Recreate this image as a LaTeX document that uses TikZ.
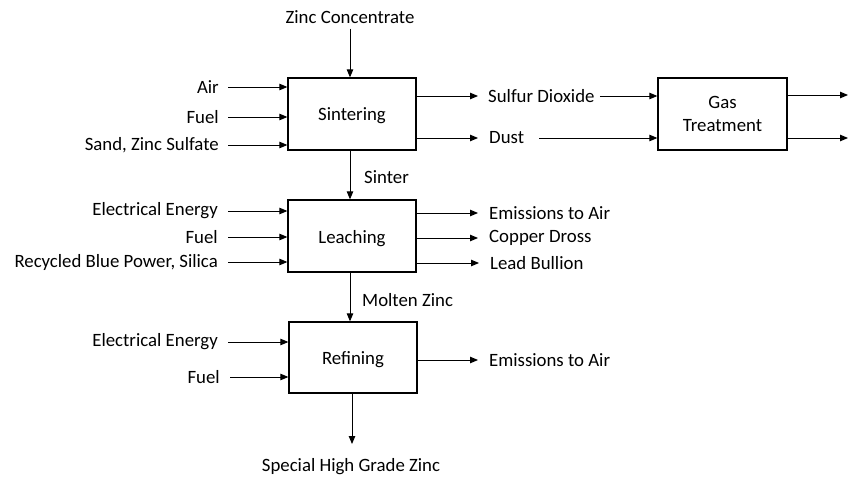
\documentclass[tikz,border=0pt]{standalone}
\usepackage{fontspec}
\setmainfont{Carlito}
\usetikzlibrary{arrows.meta}
\begin{document}
\begin{tikzpicture}[x=1pt,y=-1pt,
  every node/.style={font=\fontsize{18.8}{22}\selectfont, inner sep=0pt},
  proc/.style={draw, line width=1.3pt, minimum width=128pt, minimum height=72pt, align=center},
  low/.style={text height=14pt, text depth=0pt},
  flow/.style={line width=0.9pt, -{Triangle[length=8pt,width=6.5pt]}}]
\useasboundingbox (0,0) rectangle (850,478);
% boxes
\node[proc, low] (sint) at (352,114) {Sintering};
\node[proc, low] (leach) at (352,236) {Leaching};
\node[proc, low, minimum height=71pt] (ref) at (353,357.5) {Refining};
\node[proc, minimum width=129pt] (gas) at (722.5,114) {Gas\\[1pt]Treatment};
% top input
\node (zc) at (350,17) {Zinc Concentrate};
\draw[flow] ([yshift=-5pt]zc.south) -- (zc.south |- sint.north);
% sintering inputs
\node[anchor=east] (air) at (219,87) {Air};
\node[anchor=east] (fuel1) at (219,117) {Fuel};
\node[anchor=east] (sand) at (219,145) {Sand, Zinc Sulfate};
\foreach \n in {air,fuel1,sand}
  \draw[flow] ([xshift=9pt]\n.east) -- (\n -| sint.west);
% sintering outputs
\node[anchor=west] (so2) at (488,96) {Sulfur Dioxide};
\node[anchor=west] (dust) at (489,138) {Dust};
\draw[flow] (sint.east |- so2) -- ([xshift=-10pt]so2.west);
\draw[flow] (sint.east |- dust) -- ([xshift=-11pt]dust.west);
\draw[flow] ([xshift=5pt]so2.east) -- (so2 -| gas.west);
\draw[flow] ([xshift=15pt]dust.east) -- (dust -| gas.west);
% gas outputs
\coordinate (g1) at (848,95);
\coordinate (g2) at (848,138);
\draw[flow] (gas.east |- g1) -- (g1);
\draw[flow] (gas.east |- g2) -- (g2);
% sinter
\draw[flow] (sint.south -| zc) -- (leach.north -| zc);
\node[anchor=west] (sinter) at (364,177) {Sinter};
% leaching inputs
\node[anchor=east] (ee1) at (218,211) {Electrical Energy};
\node[anchor=east] (fuel2) at (218,237) {Fuel};
\node[anchor=east] (rbp) at (218,262) {Recycled Blue Power, Silica};
\foreach \n in {ee1,fuel2,rbp}
  \draw[flow] ([xshift=10pt]\n.east) -- (\n -| leach.west);
% leaching outputs
\node[anchor=west] (em1) at (489,213) {Emissions to Air};
\node[anchor=west] (cd) at (489,238) {Copper Dross};
\node[anchor=west] (lb) at (490,263) {Lead Bullion};
\foreach \n in {em1,cd,lb}
  \draw[flow] (leach.east |- \n) -- ([xshift=-11pt]\n.west);
% molten zinc
\draw[flow] (leach.south -| zc) -- (ref.north -| zc);
\node[anchor=west] (mz) at (362,300) {Molten Zinc};
% refining inputs
\node[anchor=east] (ee2) at (218,342) {Electrical Energy};
\node[anchor=east] (fuel3) at (220,377) {Fuel};
\foreach \n in {ee2,fuel3}
  \draw[flow] ([xshift=10pt]\n.east) -- (\n -| ref.west);
% refining output
\node[anchor=west] (em2) at (489,360) {Emissions to Air};
\draw[flow] (ref.east |- em2) -- ([xshift=-11pt]em2.west);
% product
\node (shg) at (351,467) {Special High Grade Zinc};
\coordinate (pend) at (352,444);
\draw[flow] (ref.south -| pend) -- (pend);
\end{tikzpicture}
\end{document}
